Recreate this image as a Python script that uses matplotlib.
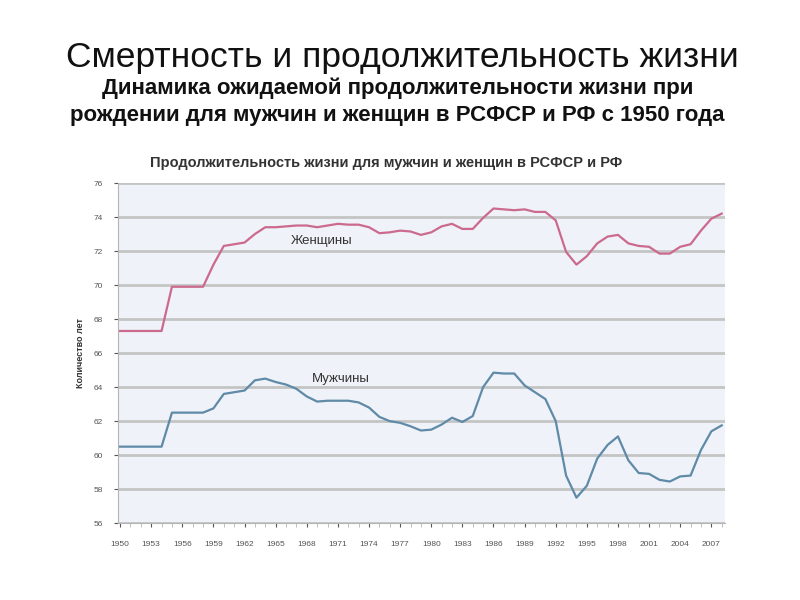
import matplotlib
matplotlib.use("Agg")
import matplotlib.pyplot as plt
from matplotlib.ticker import MultipleLocator

plt.rcParams['font.family'] = ['Liberation Sans', 'DejaVu Sans']

# Годы и ожидаемая продолжительность жизни
years = list(range(1950, 2009))
women = [67.3, 67.3, 67.3, 67.3, 67.3, 69.9, 69.9, 69.9, 69.9, 71.2,
         72.3, 72.4, 72.5, 73.0, 73.4, 73.4, 73.45, 73.5, 73.5, 73.4,
         73.5, 73.6, 73.55, 73.55, 73.4, 73.05, 73.1, 73.2, 73.15, 72.95,
         73.1, 73.45, 73.6, 73.3, 73.3, 73.95, 74.5, 74.45, 74.4, 74.45,
         74.3, 74.3, 73.8, 71.95, 71.2, 71.7, 72.45, 72.85, 72.95, 72.45,
         72.3, 72.25, 71.85, 71.85, 72.25, 72.4, 73.2, 73.9, 74.2]
men = [60.5, 60.5, 60.5, 60.5, 60.5, 62.5, 62.5, 62.5, 62.5, 62.75,
       63.6, 63.7, 63.8, 64.4, 64.5, 64.3, 64.15, 63.9, 63.45, 63.15,
       63.2, 63.2, 63.2, 63.1, 62.8, 62.25, 62.0, 61.9, 61.7, 61.45,
       61.5, 61.8, 62.2, 61.95, 62.3, 64.0, 64.85, 64.8, 64.8, 64.1,
       63.7, 63.3, 62.0, 58.8, 57.5, 58.2, 59.8, 60.6, 61.1, 59.7,
       58.95, 58.9, 58.55, 58.45, 58.75, 58.8, 60.3, 61.4, 61.75]
xtick_years = list(range(1950, 2008, 3))
ytick_vals = list(range(56, 77, 2))

fig = plt.figure(figsize=(8, 6), dpi=100)

fig.text(0.503, 0.905, "Смертность и продолжительность жизни",
         ha="center", va="center", fontsize=25.5, color="#111111")
fig.text(0.497, 0.830, "Динамика ожидаемой продолжительности жизни при\n"
         "рождении для мужчин и женщин в РСФСР и РФ с 1950 года",
         ha="center", va="center", fontsize=16, fontweight="bold",
         linespacing=1.4, color="#111111")
fig.text(0.483, 0.728, "Продолжительность жизни для мужчин и женщин в РСФСР и РФ",
         ha="center", va="center", fontsize=10.5, fontweight="bold", color="#333333")

ax = fig.add_axes([0.1475, 0.128, 0.7585, 0.567])
ax.set_facecolor("#eff2f8")

ax.plot(years, women, color="#cc6a8e", lw=1.6)
ax.plot(years, men, color="#5f8aa8", lw=1.6)

ax.text(1969.4, 72.4, "Женщины", fontsize=9.5, color="#333333", ha="center")
ax.text(1971.3, 64.3, "Мужчины", fontsize=9.5, color="#333333", ha="center")

ax.set_xlim(1949.8, 2008.3)
ax.set_ylim(56, 76)
ax.set_yticks(ytick_vals)
ax.set_xticks(xtick_years)
ax.xaxis.set_minor_locator(MultipleLocator(1))
ax.grid(axis="y", color="#c4c4c4", lw=2)
ax.set_axisbelow(True)

for s in ["top", "right"]:
    ax.spines[s].set_visible(False)
ax.spines["left"].set_color("#b5b5b5")
ax.spines["bottom"].set_color("#b5b5b5")

ax.tick_params(axis="both", labelsize=6, colors="#555555", length=3, width=0.8)
ax.tick_params(axis="x", which="minor", length=3, color="#b5b5b5")
ax.tick_params(axis="x", pad=10)
ax.tick_params(axis="y", pad=8)
ax.set_ylabel("Количество лет", fontsize=6.5, fontweight="bold", color="#333333", labelpad=6)

fig.savefig("out.png", dpi=100, facecolor="white")
